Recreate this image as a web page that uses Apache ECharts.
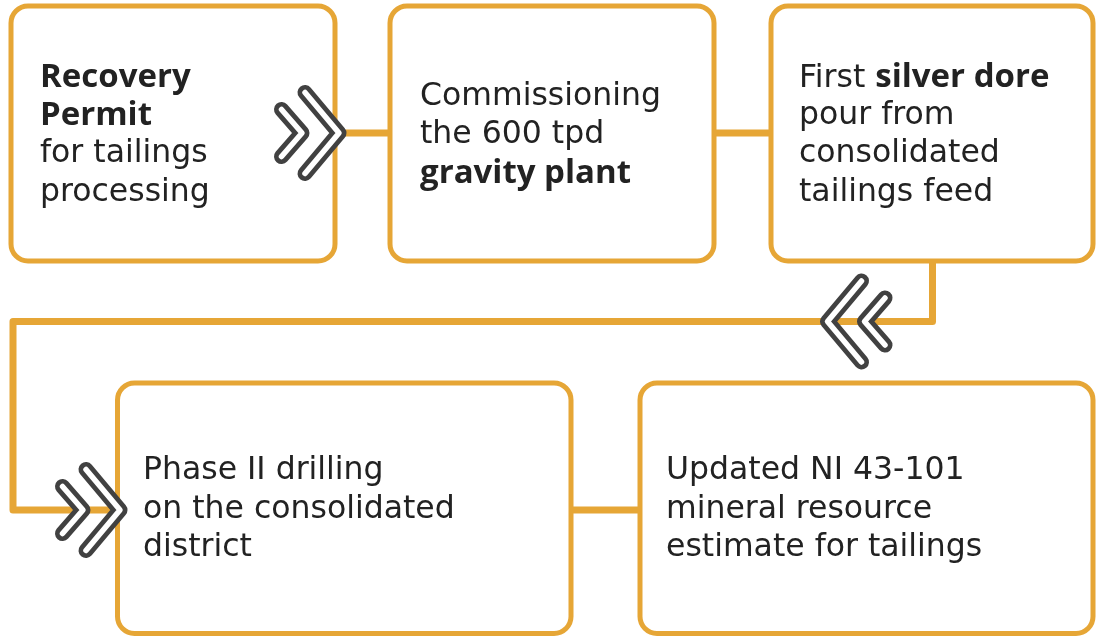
<!DOCTYPE html>
<html><head><meta charset="utf-8">
<script src="https://cdn.jsdelivr.net/npm/echarts@6/dist/echarts.min.js"></script>
<style>html,body{margin:0;padding:0;background:#fff}#c{width:1101px;height:639px}</style>
</head><body><div id="c"></div>
<script>
// ---- content ----
const stepTexts = [
  '{b|Recovery}\n{b|Permit}\nfor tailings\nprocessing',
  'Commissioning\nthe 600 tpd\n{b|gravity plant}',
  '{r|First }{b|silver dore}\npour from\nconsolidated\ntailings feed',
  'Phase II drilling\non the consolidated\ndistrict',
  'Updated NI 43-101\nmineral resource\nestimate for tailings'
];
// ---- layout (axis units) ----
const boxExtents = [[11,6,335,261],[390,6,714,261],[771,6,1093,261],[117.5,383,571,633.5],[640,383,1093,633.5]];
const textLeft = [40, 420, 799, 143, 666];
const connectorPaths = [
  [[335,133],[390,133]],
  [[714,133],[771,133]],
  [[932.5,259],[932.5,321.5],[13,321.5],[13,510],[119,510]],
  [[571,510],[640,510]]
];
const chevronTips = [[339,133,1],[827.5,321.5,-1],[120,510,1]];

const ORANGE = '#E6A636', DARK = '#414141', TEXT = '#222222';
const FONT = '"DejaVu Sans", sans-serif', FS = 31.5, LH = 38.5;
const BFONT = '"Open Sans", sans-serif', BFS = 33;

const chart = echarts.init(document.getElementById('c'), null, {renderer:'canvas'});
chart.setOption({
  animation: false,
  backgroundColor: '#fff',
  grid: {left:0, right:0, top:0, bottom:0},
  xAxis: {type:'value', min:0, max:1101, show:false},
  yAxis: {type:'value', min:0, max:639, inverse:true, show:false},
  series: [
    { type:'custom', coordinateSystem:'cartesian2d', z:1,
      data: connectorPaths.map((p,i)=>[p[0][0],p[0][1],i]),
      renderItem: (params, api) => {
        const pts = connectorPaths[params.dataIndex].map(p=>api.coord(p));
        return {type:'polyline', shape:{points:pts}, style:{stroke:ORANGE, lineWidth:7, fill:null, lineJoin:'round', lineCap:'round'}};
      }
    },
    { type:'custom', coordinateSystem:'cartesian2d', z:2,
      data: boxExtents.map((b,i)=>[b[0],b[1],b[2],b[3],i]),
      renderItem: (params, api) => {
        const p0 = api.coord([api.value(0), api.value(1)]);
        const p1 = api.coord([api.value(2), api.value(3)]);
        const i = params.dataIndex;
        const tx = api.coord([textLeft[i], 0])[0];
        return {type:'group', children:[
          {type:'rect', shape:{x:p0[0], y:p0[1], width:p1[0]-p0[0], height:p1[1]-p0[1], r:17},
           style:{fill:'#fff', stroke:ORANGE, lineWidth:5}},
          {type:'text', x:tx, y:(p0[1]+p1[1])/2 + 1.5,
           style:{text:stepTexts[i], fill:TEXT, fontFamily:FONT, fontSize:FS, lineHeight:LH,
                  align:'left', verticalAlign:'middle',
                  rich:{
                    b:{fontWeight:'bold', fontFamily:BFONT, fontSize:BFS, lineHeight:LH, fill:TEXT},
                    r:{fontFamily:FONT, fontSize:FS, lineHeight:LH, fill:TEXT, padding:[3,0,0,0]}
                  }}}
        ]};
      }
    },
    { type:'custom', coordinateSystem:'cartesian2d', z:3,
      data: chevronTips.map((c,i)=>[c[0],c[1],c[2]]),
      renderItem: (params, api) => {
        const t = api.coord([api.value(0), api.value(1)]);
        const d = api.value(2);
        const big = [[t[0]-d*34, t[1]-40.5],[t[0], t[1]],[t[0]-d*34, t[1]+40.5]];
        const sx = t[0]-d*37;
        const small = [[sx-d*20.5, t[1]-23.5],[sx, t[1]],[sx-d*20.5, t[1]+23.5]];
        const mk = (pts, w, c) => ({type:'polyline', shape:{points:pts}, style:{stroke:c, lineWidth:w, fill:null, lineCap:'round', lineJoin:'round'}});
        return {type:'group', children:[mk(small,15,DARK), mk(small,5.5,'#fff'), mk(big,15,DARK), mk(big,5.5,'#fff')]};
      }
    }
  ]
});
</script></body></html>
